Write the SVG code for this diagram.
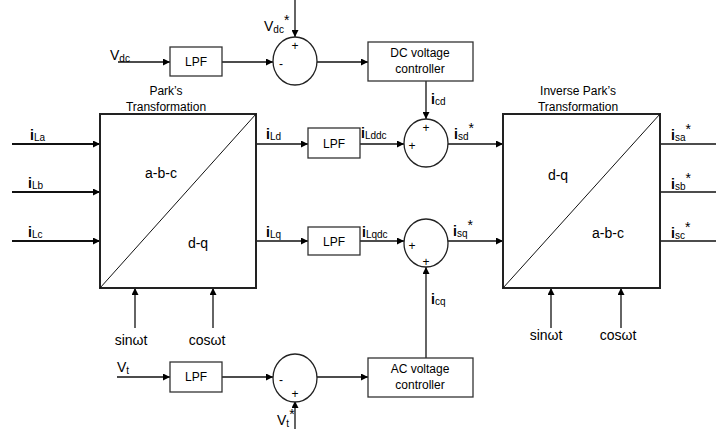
<svg xmlns="http://www.w3.org/2000/svg" width="716" height="429" viewBox="0 0 716 429">
<style>
text{font-family:"Liberation Sans",Arial,sans-serif;fill:#000}
.t{font-size:12px;text-anchor:middle}
.l{font-size:14px}
.s{font-size:10px}
.b{font-weight:bold}
.box{fill:#fff;stroke:#333;stroke-width:1.3}
.big{fill:#fff;stroke:#222;stroke-width:2}
.sum{fill:#fff;stroke:#222;stroke-width:1.3}
.w{stroke:#111;stroke-width:1.3;fill:none}
.wt{stroke:#111;stroke-width:1.8;fill:none}
.pm{font-size:12px;text-anchor:middle}
</style>
<defs>
<marker id="a" viewBox="0 0 10 10" refX="10" refY="5" markerWidth="8" markerHeight="7" markerUnits="userSpaceOnUse" orient="auto">
<path d="M0,0 L10,5 L0,10 Z" fill="#000"/>
</marker>
</defs>

<g id="connectors">
<line class="w" x1="118" y1="62" x2="170" y2="62" marker-end="url(#a)"/>
<line class="w" x1="222" y1="62" x2="273" y2="62" marker-end="url(#a)"/>
<line class="w" x1="295" y1="0" x2="295" y2="37" marker-end="url(#a)"/>
<line class="w" x1="317" y1="62" x2="368" y2="62" marker-end="url(#a)"/>
<line class="w" x1="426" y1="81" x2="426" y2="119" marker-end="url(#a)"/>
<line class="wt" x1="12" y1="144" x2="100" y2="144" marker-end="url(#a)"/>
<line class="wt" x1="12" y1="192" x2="100" y2="192" marker-end="url(#a)"/>
<line class="wt" x1="12" y1="241" x2="100" y2="241" marker-end="url(#a)"/>
<line class="w" x1="256" y1="144" x2="308" y2="144" marker-end="url(#a)"/>
<line class="w" x1="256" y1="241" x2="308" y2="241" marker-end="url(#a)"/>
<line class="w" x1="360" y1="144" x2="404" y2="144" marker-end="url(#a)"/>
<line class="w" x1="360" y1="241" x2="404" y2="241" marker-end="url(#a)"/>
<line class="w" x1="448" y1="144" x2="503" y2="144" marker-end="url(#a)"/>
<line class="w" x1="448" y1="241" x2="503" y2="241" marker-end="url(#a)"/>
<line class="w" x1="660" y1="144" x2="716" y2="144"/>
<line class="w" x1="660" y1="192" x2="716" y2="192"/>
<line class="w" x1="660" y1="241" x2="716" y2="241"/>
<line class="w" x1="135" y1="328" x2="135" y2="288" marker-end="url(#a)"/>
<line class="w" x1="213" y1="328" x2="213" y2="288" marker-end="url(#a)"/>
<line class="w" x1="551" y1="328" x2="551" y2="288" marker-end="url(#a)"/>
<line class="w" x1="621" y1="328" x2="621" y2="288" marker-end="url(#a)"/>
<line class="w" x1="117" y1="377" x2="170" y2="377" marker-end="url(#a)"/>
<line class="w" x1="222" y1="377" x2="273" y2="377" marker-end="url(#a)"/>
<line class="w" x1="295" y1="429" x2="295" y2="401" marker-end="url(#a)"/>
<line class="w" x1="317" y1="377" x2="368" y2="377" marker-end="url(#a)"/>
<line class="w" x1="426" y1="358" x2="426" y2="267" marker-end="url(#a)"/>
</g>

<g id="lpf-vdc"><rect class="box" x="170" y="47" width="52" height="29"/><text class="t" x="196" y="66">LPF</text></g>
<g id="sum-vdc"><ellipse class="sum" cx="295" cy="61" rx="22" ry="24"/><text class="pm" x="295" y="50">+</text><text class="pm" x="281" y="68">-</text></g>
<g id="dc-controller"><rect class="box" x="368" y="42" width="105" height="39"/><text class="t" x="420" y="57">DC voltage</text><text class="t" x="420" y="73">controller</text></g>

<g id="park"><rect class="big" x="100" y="114" width="156" height="174"/><line x1="100" y1="288" x2="256" y2="114" stroke="#111" stroke-width="1"/>
<text class="t" x="166" y="95">Park’s</text><text class="t" x="166" y="111">Transformation</text>
<text class="l" x="161" y="178" text-anchor="middle">a-b-c</text><text class="l" x="198" y="248" text-anchor="middle">d-q</text></g>

<g id="lpf-d"><rect class="box" x="308" y="128" width="52" height="30"/><text class="t" x="334" y="148">LPF</text></g>
<g id="lpf-q"><rect class="box" x="308" y="227" width="52" height="28"/><text class="t" x="334" y="246">LPF</text></g>
<g id="sum-d"><ellipse class="sum" cx="426" cy="143" rx="22" ry="24"/><text class="pm" x="426" y="132">+</text><text class="pm" x="412" y="150">+</text></g>
<g id="sum-q"><ellipse class="sum" cx="426" cy="243" rx="22" ry="24"/><text class="pm" x="412" y="250">+</text><text class="pm" x="426" y="266">+</text></g>

<g id="inv-park"><rect class="big" x="503" y="114" width="157" height="174"/><line x1="503" y1="288" x2="660" y2="114" stroke="#111" stroke-width="1"/>
<text class="t" x="578" y="95">Inverse Park’s</text><text class="t" x="578" y="111">Transformation</text>
<text class="l" x="558" y="180" text-anchor="middle">d-q</text><text class="l" x="608" y="238" text-anchor="middle">a-b-c</text></g>

<g id="lpf-vt"><rect class="box" x="170" y="362" width="52" height="30"/><text class="t" x="196" y="381">LPF</text></g>
<g id="sum-vt"><ellipse class="sum" cx="295" cy="378" rx="22" ry="24"/><text class="pm" x="281" y="384">-</text><text class="pm" x="295" y="398">+</text></g>
<g id="ac-controller"><rect class="box" x="368" y="358" width="105" height="39"/><text class="t" x="420" y="373">AC voltage</text><text class="t" x="420" y="389">controller</text></g>

<g id="labels">
<text class="l" x="110" y="60">V<tspan class="s" dy="2">dc</tspan></text>
<text class="l" x="264" y="31">V<tspan class="s" dy="2">dc</tspan><tspan dy="-8">*</tspan></text>
<text class="l" x="30" y="140"><tspan class="b">i</tspan><tspan class="s" dy="1">La</tspan></text>
<text class="l" x="28" y="188"><tspan class="b">i</tspan><tspan class="s" dy="1">Lb</tspan></text>
<text class="l" x="28" y="237"><tspan class="b">i</tspan><tspan class="s" dy="1">Lc</tspan></text>
<text class="l" x="266" y="139"><tspan class="b">i</tspan><tspan class="s" dy="1">Ld</tspan></text>
<text class="l" x="266" y="237"><tspan class="b">i</tspan><tspan class="s" dy="1">Lq</tspan></text>
<text class="l" x="361" y="138"><tspan class="b">i</tspan><tspan class="s" dy="1">Lddc</tspan></text>
<text class="l" x="362" y="237"><tspan class="b">i</tspan><tspan class="s" dy="1">Lqdc</tspan></text>
<text class="l" x="431" y="104"><tspan class="b">i</tspan><tspan class="s" dy="1">cd</tspan></text>
<text class="l" x="431" y="304"><tspan class="b">i</tspan><tspan class="s" dy="1">cq</tspan></text>
<text class="l" x="454" y="139"><tspan class="b">i</tspan><tspan class="s" dy="1">sd</tspan><tspan dy="-7">*</tspan></text>
<text class="l" x="453" y="236"><tspan class="b">i</tspan><tspan class="s" dy="1">sq</tspan><tspan dy="-7">*</tspan></text>
<text class="l" x="671" y="140"><tspan class="b">i</tspan><tspan class="s" dy="1">sa</tspan><tspan dy="-7">*</tspan></text>
<text class="l" x="671" y="189"><tspan class="b">i</tspan><tspan class="s" dy="1">sb</tspan><tspan dy="-7">*</tspan></text>
<text class="l" x="671" y="238"><tspan class="b">i</tspan><tspan class="s" dy="1">sc</tspan><tspan dy="-7">*</tspan></text>
<text class="l" x="131" y="345" text-anchor="middle">sinωt</text>
<text class="l" x="207" y="345" text-anchor="middle">cosωt</text>
<text class="l" x="546" y="340" text-anchor="middle">sinωt</text>
<text class="l" x="618" y="340" text-anchor="middle">cosωt</text>
<text class="l" x="117" y="372">V<tspan class="s" dy="2">t</tspan></text>
<text class="l" x="277" y="425">V<tspan class="s" dy="2">t</tspan><tspan dy="-8">*</tspan></text>
</g>
</svg>
